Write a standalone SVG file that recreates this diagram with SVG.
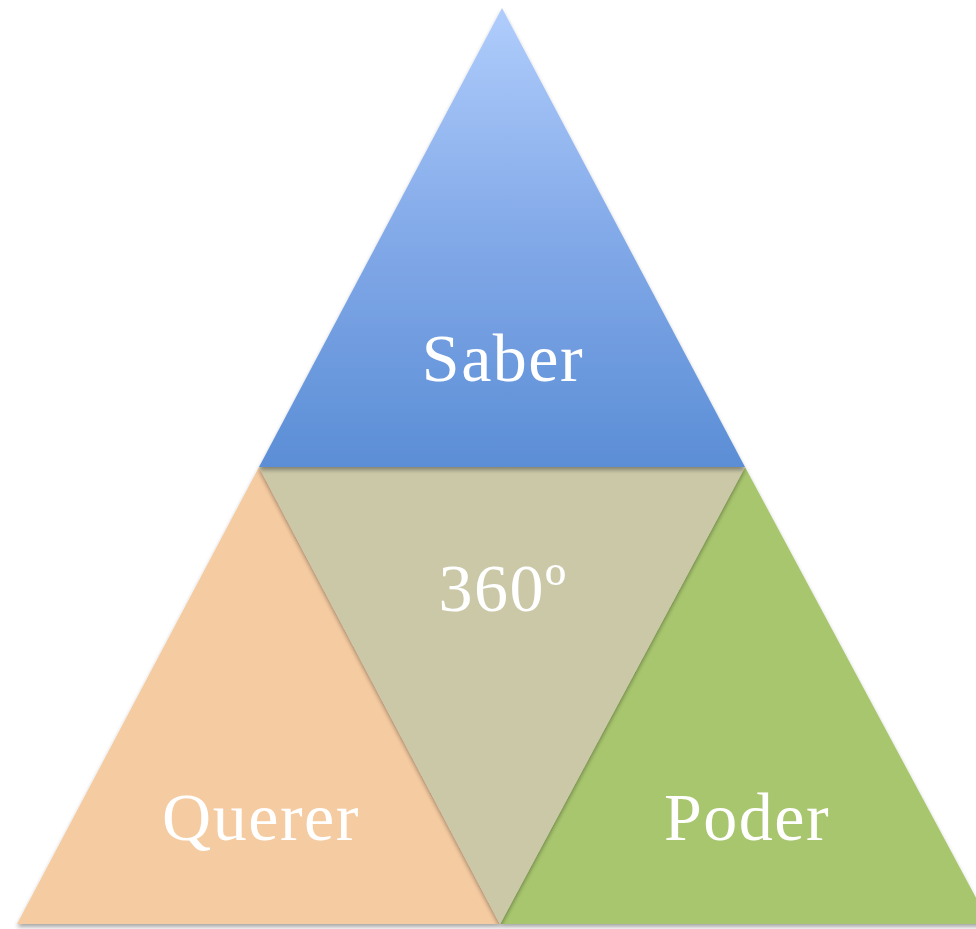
<svg xmlns="http://www.w3.org/2000/svg" width="976" height="929" viewBox="0 0 976 929">
  <defs>
    <linearGradient id="blueGrad" x1="0" y1="8" x2="0" y2="467" gradientUnits="userSpaceOnUse">
      <stop offset="0" stop-color="#b0cdfc"/>
      <stop offset="0.5" stop-color="#82a9e8"/>
      <stop offset="1" stop-color="#5b8ed6"/>
    </linearGradient>
    <filter id="shadow" x="-10%" y="-10%" width="120%" height="120%">
      <feGaussianBlur in="SourceAlpha" stdDeviation="2"/>
      <feOffset dx="0" dy="3" result="b"/>
      <feComponentTransfer><feFuncA type="linear" slope="0.35"/></feComponentTransfer>
      <feMerge><feMergeNode/><feMergeNode in="SourceGraphic"/></feMerge>
    </filter>
  </defs>
  <style>
    .lbl { font-family: "Liberation Serif", "DejaVu Serif", serif; font-size: 68px; letter-spacing: 1.5px; fill: #ffffff; text-anchor: middle; }
  </style>
  <rect width="976" height="929" fill="#ffffff"/>
  <g id="querer">
    <polygon points="259,467 17,924 500,924" fill="#f5cba1" filter="url(#shadow)"/>
    <text class="lbl" x="261" y="840">Querer</text>
  </g>
  <g id="poder">
    <polygon points="745,467 500,924 990,924" fill="#a8c66e" filter="url(#shadow)"/>
    <text class="lbl" x="747" y="840">Poder</text>
  </g>
  <g id="centro">
    <polygon points="259,467 745,467 500,924" fill="#cbc8a8" filter="url(#shadow)"/>
    <text class="lbl" x="503" y="611">360º</text>
  </g>
  <g id="saber">
    <polygon points="502,8 259,467 745,467" fill="url(#blueGrad)" filter="url(#shadow)"/>
    <text class="lbl" x="503" y="381">Saber</text>
  </g>
  <g id="connectors"/>
</svg>
